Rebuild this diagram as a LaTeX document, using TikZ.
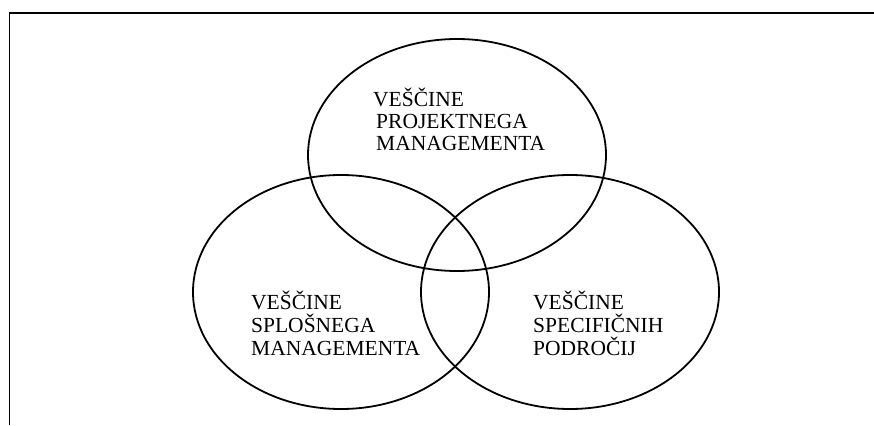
\documentclass[tikz,border=0pt]{standalone}
\usepackage{fontspec}
\setmainfont{Liberation Serif}
\begin{document}
\begin{tikzpicture}[x=1pt,y=-1pt,
  ring/.style={draw=black,line width=1.8pt},
  frameline/.style={draw=black,line width=1.8pt},
  skill/.style={inner sep=0pt,align=left,anchor=base west,
    font=\fontsize{21.5}{23}\selectfont}]
\useasboundingbox (0,0) rectangle (874,425);
% outer frame: only top and left edges are visible
\coordinate (fl) at (9.5,425);
\coordinate (ftl) at (9.5,13);
\coordinate (ftr) at (874,13);
\draw[frameline] (fl) -- (ftl) -- (ftr);
% three overlapping skill areas
\draw[ring] (457,155) ellipse [x radius=149, y radius=116];
\draw[ring] (341,292) ellipse [x radius=148, y radius=117];
\draw[ring] (570,292) ellipse [x radius=149, y radius=117];
% labels (anchored at the baseline of their last line)
\node[skill,font=\fontsize{21.5}{22}\selectfont] (proj) at (373,150) {VEŠČINE\\\hspace{3pt}PROJEKTNEGA\\\hspace{3pt}MANAGEMENTA};
\node[skill] (splo) at (251,355) {VEŠČINE\\SPLOŠNEGA\\MANAGEMENTA};
\node[skill] (spec) at (533,355) {VEŠČINE\\SPECIFIČNIH\\PODROČIJ};
\end{tikzpicture}
\end{document}
